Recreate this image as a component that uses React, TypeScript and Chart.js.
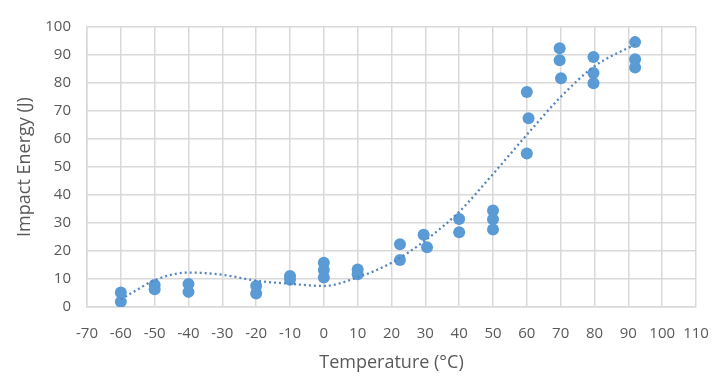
import React, { useEffect, useRef } from "react";
import { Chart, registerables } from "chart.js";

Chart.register(...registerables);

// Measured specimens
const temperatureC = [
  -60, -60, -50, -50, -40, -40, -20, -20, -10, -10, 0, 0, 0, 10, 10,
  22.5, 22.5, 29.5, 30.5, 40, 40, 50, 50, 50, 60, 60.5, 60,
  69.7, 69.7, 70.1, 79.7, 79.7, 79.7, 92, 92, 92,
];
const impactEnergyJ = [
  5.2, 1.9, 7.9, 6.3, 8.2, 5.4, 7.5, 4.8, 11.1, 9.7, 15.8, 13.2, 10.5, 13.4, 11.7,
  22.4, 16.8, 25.8, 21.3, 31.4, 26.7, 34.5, 31.3, 27.7, 76.8, 67.4, 54.8,
  92.4, 88.1, 81.7, 89.3, 83.6, 79.9, 94.6, 88.5, 85.5,
];

// Trendline
const trendX = [-60, -55, -50, -40, -30, -20, -10, 0, 10, 20, 30, 40, 50, 60, 70, 80, 92];
const trendY = [2.7, 6.3, 9.6, 12.3, 11.5, 9.4, 8.3, 7.5, 10.6, 15.8, 23.8, 34, 47.5, 61.5, 75, 86, 93.8];

const xMin = -70;
const xMax = 110;
const xStep = 10;
const yMin = 0;
const yMax = 100;
const yStep = 10;

const xTitle = "Temperature (°C)";
const yTitle = "Impact Energy (J)";

const BLUE = "#5B9BD5";
const TEXT = "#595959";
const GRID = "#D9D9D9";
const FONT = "'Open Sans', sans-serif";

export default function App() {
  const ref = useRef<HTMLCanvasElement | null>(null);

  useEffect(() => {
    if (!ref.current) return;
    const chart = new Chart(ref.current, {
      type: "scatter",
      data: {
        datasets: [
          {
            type: "line",
            label: "Trend",
            data: trendX.map((x, i) => ({ x, y: trendY[i] })),
            borderColor: "#5585BE",
            borderWidth: 2.3,
            borderDash: [2, 3],
            pointRadius: 0,
            fill: false,
            cubicInterpolationMode: "monotone",
            order: 0,
          } as any,
          {
            label: "Data",
            data: temperatureC.map((x, i) => ({ x, y: impactEnergyJ[i] })),
            backgroundColor: BLUE,
            borderColor: BLUE,
            pointRadius: 6,
            pointBorderWidth: 0,
            order: 1,
          },
        ],
      },
      options: {
        animation: false,
        responsive: false,
        maintainAspectRatio: false,
        layout: { padding: { top: 27, right: 26, bottom: 0, left: 0 } },
        plugins: {
          legend: { display: false },
          tooltip: { enabled: false },
        },
        scales: {
          x: {
            type: "linear",
            min: xMin,
            max: xMax,
            afterFit: (s: any) => {
              s.height = 80;
              s.paddingLeft = 0;
              s.paddingRight = 0;
            },
            afterBuildTicks: (s: any) => {
              const t = [];
              for (let v = xMin; v <= xMax; v += xStep) t.push({ value: v });
              s.ticks = t;
            },
            grid: { color: GRID, lineWidth: 1.5, drawTicks: false },
            border: { color: GRID, width: 1.5 },
            ticks: {
              color: TEXT,
              font: { family: FONT, size: 15 },
              padding: 18,
              maxRotation: 0,
              autoSkip: false,
            },
            title: {
              display: true,
              text: xTitle,
              color: TEXT,
              font: { family: FONT, size: 18 },
              padding: { top: 0, bottom: 13 },
            },
          },
          y: {
            type: "linear",
            min: yMin,
            max: yMax,
            afterFit: (s: any) => {
              s.width = 87;
              s.paddingTop = 0;
              s.paddingBottom = 0;
            },
            afterBuildTicks: (s: any) => {
              const t = [];
              for (let v = yMin; v <= yMax; v += yStep) t.push({ value: v });
              s.ticks = t;
            },
            grid: { color: GRID, lineWidth: 1.5, drawTicks: false },
            border: { color: GRID, width: 1.5 },
            ticks: {
              color: TEXT,
              font: { family: FONT, size: 15 },
              padding: 16,
            },
            title: {
              display: true,
              text: yTitle,
              color: TEXT,
              font: { family: FONT, size: 18 },
              padding: { top: 14, bottom: 0 },
            },
          },
        },
      },
    });
    return () => chart.destroy();
  }, []);

  return (
    <div style={{ position: "fixed", left: 0, top: 0, width: 722, height: 387, background: "#fff" }}>
      <canvas ref={ref} width={722} height={387} style={{ width: 722, height: 387, display: "block" }} />
    </div>
  );
}
